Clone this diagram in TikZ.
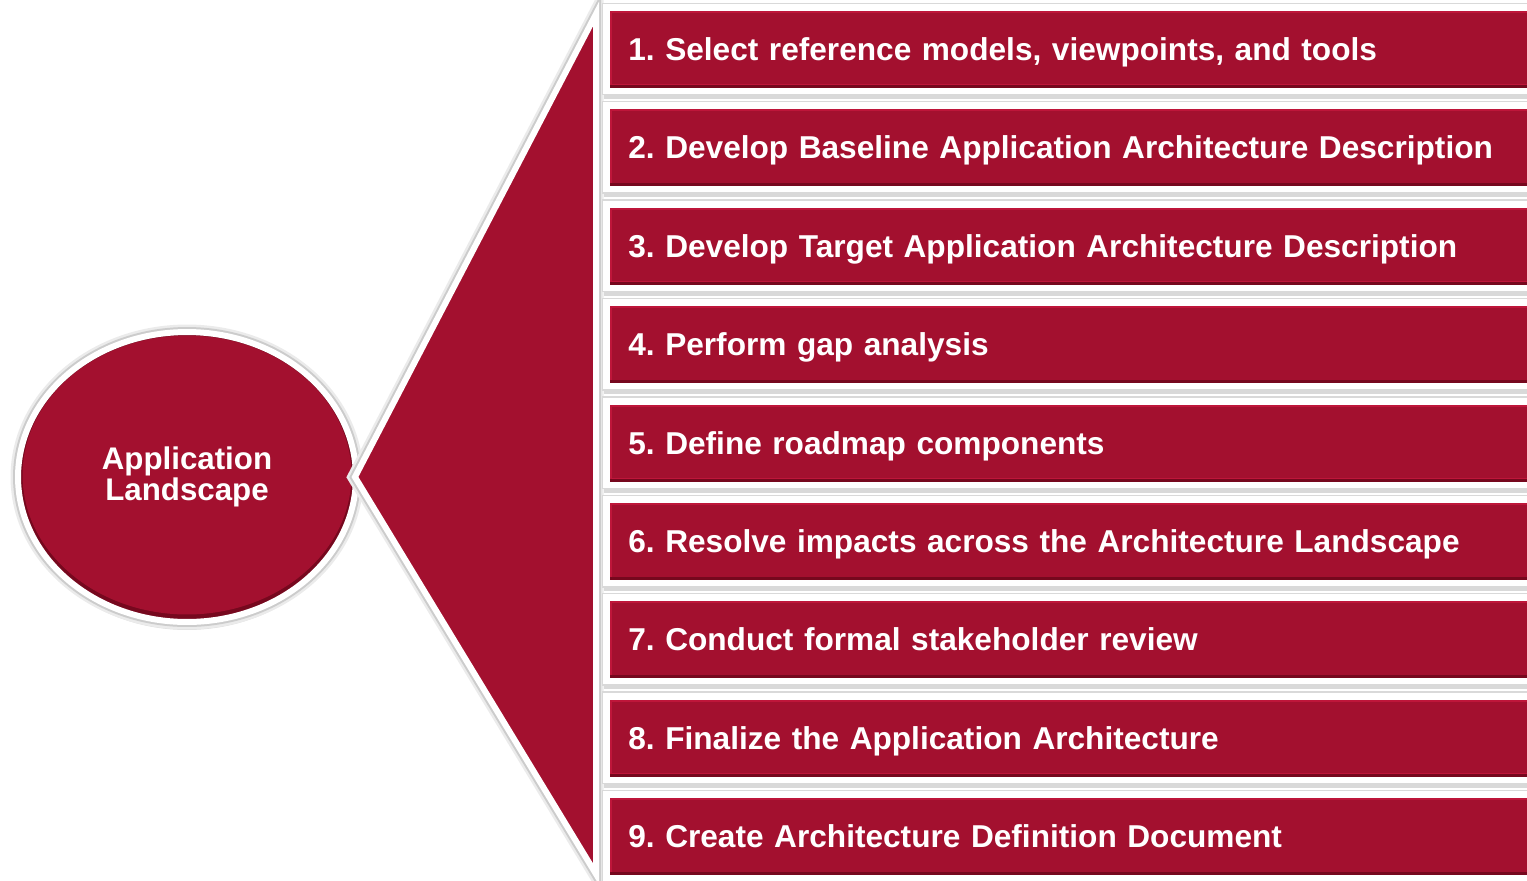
\documentclass[tikz,border=0pt]{standalone}
\usepackage{fontspec}
\setmainfont{Liberation Sans}
\usetikzlibrary{shapes.geometric, shadows}
\definecolor{appred}{RGB}{163,16,47}
\definecolor{appdark}{RGB}{118,8,30}
\definecolor{applight}{RGB}{190,22,58}

\tikzset{
	stepbar/.style={anchor=west, fill=white, text=white, align=left,
		minimum height=1.8cm, text width=17.84cm, inner xsep=0.5cm, inner ysep=0pt,
		text height=13pt, text depth=0pt,
		font=\fontsize{18}{21}\selectfont\bfseries\frenchspacing,
		drop shadow={shadow xshift=0.01cm, shadow yshift=-0.1cm, opacity=0.3},
		preaction={draw=black!15, line width=0.06cm},
		path picture={
			\fill[appdark] ([shift={(0.14cm,0.12cm)}]path picture bounding box.south west) rectangle ([shift={(-0.14cm,-0.14cm)}]path picture bounding box.north east);
			\fill[applight] ([shift={(0.14cm,0.18cm)}]path picture bounding box.south west) rectangle ([shift={(-0.14cm,-0.14cm)}]path picture bounding box.north east);
			\fill[appred] ([shift={(0.17cm,0.19cm)}]path picture bounding box.south west) rectangle ([shift={(-0.17cm,-0.18cm)}]path picture bounding box.north east);
		}},
	hub/.style={ellipse, draw=white, line width=0.12cm, fill=appdark, text=white,
		minimum width=6.76cm, minimum height=5.8cm, inner sep=0pt, align=center,
		font=\fontsize{17.8}{17.5}\selectfont\bfseries,
		drop shadow={shadow xshift=0cm, shadow yshift=-0.16cm, opacity=0.25},
		preaction={draw=black!8, line width=0.3cm},
		preaction={draw=black!20, line width=0.2cm},
		path picture={
			\fill[appred] ([yshift=0.04cm]path picture bounding box.center) ellipse (3.29cm and 2.79cm);
		}},
	fan/.style={draw=white, line width=0.12cm, fill=appred,
		preaction={draw=black!8, line width=0.3cm},
		preaction={draw=black!20, line width=0.2cm}}
}

\begin{document}
\begin{tikzpicture}[x=0.02cm, y=-0.02cm]
	\useasboundingbox (0,0) rectangle (1527,880);
	\clip (0,0) rectangle (1527,880);

	% centre of the fan
	\node[hub] (hub) at (187,477) {Application\\Landscape};
	\draw[fan] ([xshift=-0.08cm]hub.east) -- (596,14) -- (596,874) -- cycle;

	% the nine steps
	\node[stepbar] (s1) at (603,49) {1. Select reference models, viewpoints, and tools};
	\node[stepbar] (s2) at (603,147.4) {2. Develop Baseline Application Architecture Description};
	\node[stepbar] (s3) at (603,245.8) {3. Develop Target Application Architecture Description};
	\node[stepbar] (s4) at (603,344.2) {4. Perform gap analysis};
	\node[stepbar] (s5) at (603,442.6) {5. Define roadmap components};
	\node[stepbar] (s6) at (603,541) {6. Resolve impacts across the Architecture Landscape};
	\node[stepbar] (s7) at (603,639.4) {7. Conduct formal stakeholder review};
	\node[stepbar] (s8) at (603,737.8) {8. Finalize the Application Architecture};
	\node[stepbar] (s9) at (603,836.2) {9. Create Architecture Definition Document};
\end{tikzpicture}
\end{document}
